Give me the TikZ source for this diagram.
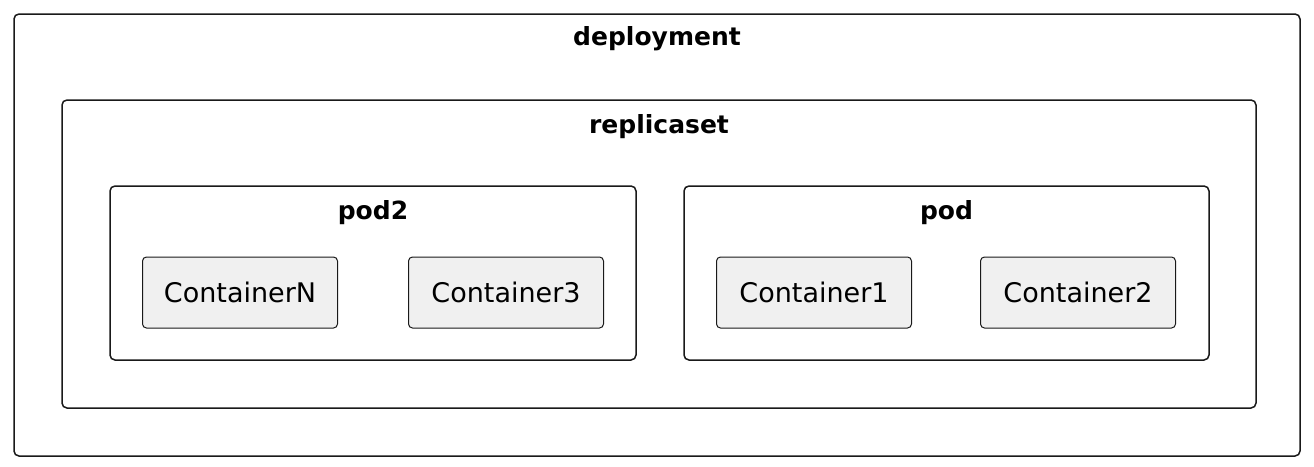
\documentclass[tikz,border=0pt]{standalone}
\usepackage{fontspec}
\setmainfont{DejaVu Sans}
\begin{document}
\begin{tikzpicture}[x=1pt,y=-1pt,line join=round,
  frame/.style={draw=black!90,line width=1.5pt,rounded corners=5pt,inner sep=0pt,outer sep=0pt},
  title/.style={font=\bfseries\fontsize{25}{30}\selectfont,inner sep=0pt},
  box/.style={draw=black!90,line width=1pt,fill=black!6,rounded corners=4pt,
    minimum width=195pt,minimum height=71pt,inner sep=0pt,font=\fontsize{27}{32}\selectfont}]
  \useasboundingbox (0,0) rectangle (1314,466);
  % frames
  \node[frame,minimum width=1286pt,minimum height=442pt] (deployment) at (657,235) {};
  \node[title] (deploymenttitle) at ([yshift=-25pt]deployment.north) {deployment};
  \node[frame,minimum width=1194pt,minimum height=308pt] (replicaset) at (659,254) {};
  \node[title] (replicasettitle) at ([yshift=-27pt]replicaset.north) {replicaset};
  \node[frame,minimum width=526pt,minimum height=174pt] (podtwo) at (373,273) {};
  \node[title] (podtwotitle) at ([yshift=-27pt]podtwo.north) {pod2};
  \node[frame,minimum width=525pt,minimum height=174pt] (pod) at (946.5,273) {};
  \node[title] (podtitle) at ([yshift=-27pt]pod.north) {pod};
  % containers
  \node[box] (containerN) at (240,292.5) {ContainerN};
  \node[box] (container3) at (506,292.5) {Container3};
  \node[box] (container1) at (814,292.5) {Container1};
  \node[box] (container2) at (1078,292.5) {Container2};
\end{tikzpicture}
\end{document}
